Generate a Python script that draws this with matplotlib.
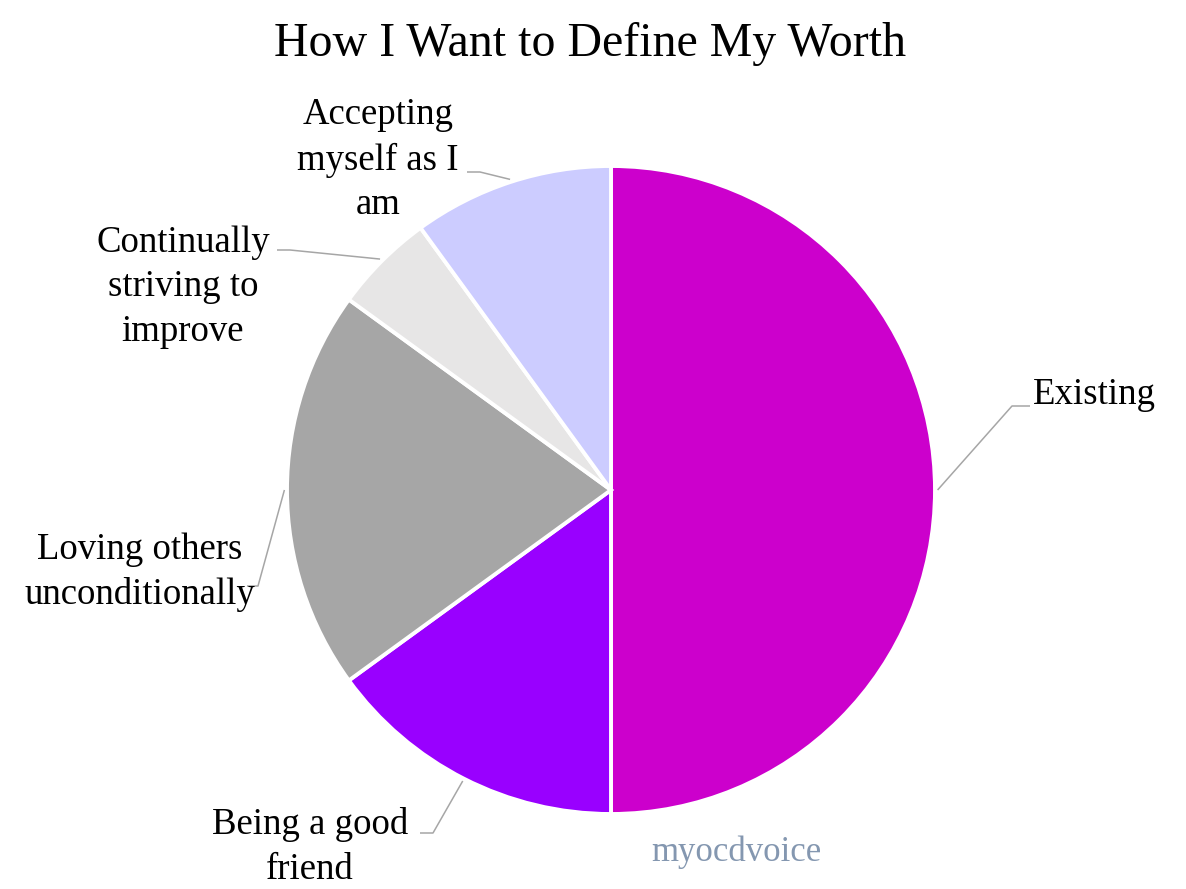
import numpy as np
import matplotlib
matplotlib.use("Agg")
import matplotlib.pyplot as plt

# ---- data ----
categories = ["Existing", "Being a good\nfriend", "Loving others\nunconditionally",
              "Continually\nstriving to\nimprove", "Accepting\nmyself as I\nam"]
values = [50, 15, 20, 5, 10]
colors = ["#CC00CC", "#9900FF", "#A6A6A6", "#E7E6E6", "#CCCCFF"]
title = "How I Want to Define My Worth"
watermark = "myocdvoice"

W, H = 1186, 889
CX, CY, R = 611, 490, 324

def px(x, y):
    return ((x - CX) / R, (CY - y) / R)

# label layout (pixel positions): text anchor, elbow, line end, alignment
layout = [
    dict(text=(1033, 395), ha="left", elbow=(1012, 406), end=(1030, 406)),
    dict(text=(310, 847), ha="center", elbow=(433, 833), end=(420, 833)),
    dict(text=(140, 572), ha="center", elbow=(258, 586), end=(247, 586)),
    dict(text=(183, 287), ha="center", elbow=(290, 250), end=(277, 250)),
    dict(text=(378, 160), ha="center", elbow=(480, 172), end=(467, 172)),
]

plt.rcParams['font.family'] = ['Liberation Serif', 'DejaVu Serif']

fig = plt.figure(figsize=(W / 100, H / 100), dpi=100)
ax = fig.add_axes([0, 0, 1, 1])
wedges, _ = ax.pie(values, colors=colors, startangle=90, counterclock=False,
                   radius=1.0, wedgeprops=dict(edgecolor="white", linewidth=2.8))
ax.set_xlim(-CX / R, (W - CX) / R)
ax.set_ylim(-(H - CY) / R, CY / R)
ax.set_aspect("auto")
ax.axis("off")

for w, lab, lay in zip(wedges, categories, layout):
    ang = np.deg2rad((w.theta1 + w.theta2) / 2)
    sx, sy = 1.008 * np.cos(ang), 1.008 * np.sin(ang)
    ex, ey = px(*lay["elbow"])
    fx, fy = px(*lay["end"])
    ax.plot([sx, ex, fx], [sy, ey, fy], color="#A6A6A6", lw=1.1, solid_capstyle="butt")
    tx, ty = px(*lay["text"])
    ax.text(tx, ty, lab, ha=lay["ha"], va="center", fontsize=26.5,
            multialignment="center", linespacing=1.38, color="black")

fig.text(590 / W, 1 - 44 / H, title, ha="center", va="center", fontsize=34.5, color="black")
tx, ty = px(736, 852)
ax.text(tx, ty, watermark, ha="center", va="center", fontsize=25, color="#8497B0")

fig.savefig("out.png", dpi=100, facecolor="white")
